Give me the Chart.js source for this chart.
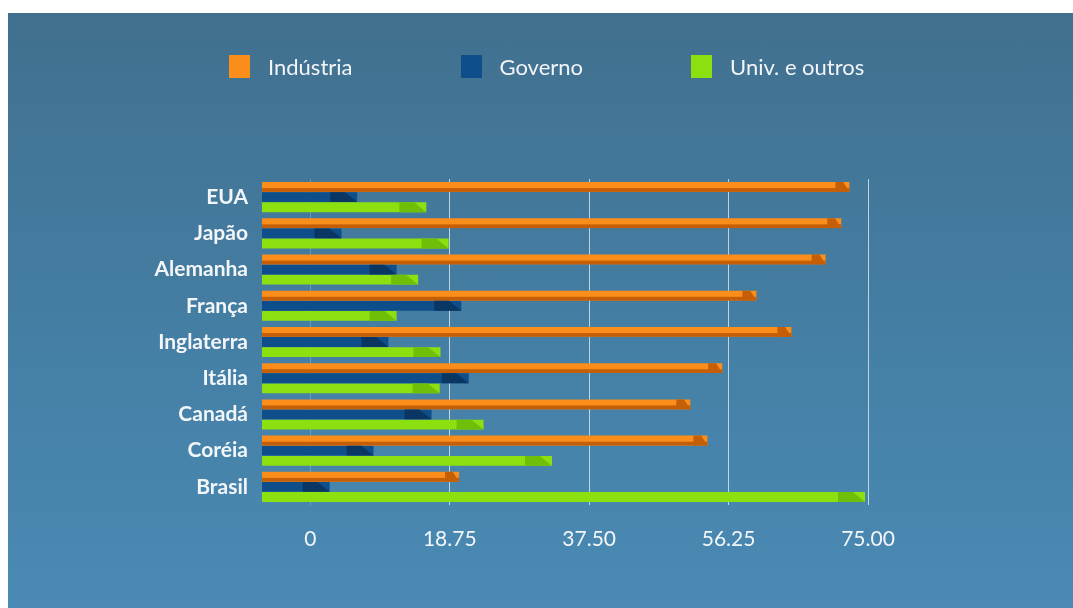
<!DOCTYPE html>
<html lang="pt">
<head>
<meta charset="utf-8">
<title>Pesquisadores por setor</title>
<script src="https://cdn.jsdelivr.net/npm/chart.js@4.4.1/dist/chart.umd.min.js"></script>
<style>
  html, body { margin: 0; padding: 0; background: #fff; }
  #panel {
    position: absolute; left: 8px; top: 13px; width: 1065px; height: 595px; overflow: hidden;
    background: linear-gradient(180deg, #41708f 0%, #4580a6 60%, #4a8ab4 100%);
  }
  #chart { position: absolute; left: 0; top: 0; }
  #legend {
    position: absolute; left: 221px; top: 40px; display: flex; gap: 108px;
    font-family: Lato, sans-serif; font-size: 22px; color: #f2f5f7;
  }
  #legend .item { display: flex; align-items: center; }
  #legend .box { width: 21px; height: 23px; margin-right: 18px; }
</style>
</head>
<body>
<div id="panel">
  <canvas id="chart" width="1065" height="595"></canvas>
  <div id="legend"></div>
</div>
<script>
// categories and series
const categories = ['EUA', 'Japão', 'Alemanha', 'França', 'Inglaterra', 'Itália', 'Canadá', 'Coréia', 'Brasil'];
const industria  = [72.5, 71.4, 69.3, 60.0, 64.7, 55.4, 51.1, 53.4, 20.0];
const governo    = [6.3, 4.2, 11.6, 20.3, 10.5, 21.3, 16.3, 8.5, 2.6];
const univOutros = [15.6, 18.6, 14.5, 11.6, 17.5, 17.4, 23.3, 32.5, 74.6];
const seriesNames = ['Indústria', 'Governo', 'Univ. e outros'];

// value axis
const tickValues = [0, 18.75, 37.5, 56.25, 75];
const tickLabels = ['0', '18.75', '37.50', '56.25', '75.00'];
const axisMin = -6.5;
const axisMax = 75;

const colors = ['#fb8d1b', '#0e4f8b', '#8de010'];
const sideColors = ['#c45f08', '#0a3663', '#6fbf08'];

// darker bar ends / underside to hint at the 3D look
const shade = {
  id: 'shade',
  afterDatasetsDraw(chart) {
    const ctx = chart.ctx;
    chart.data.datasets.forEach((ds, di) => {
      const meta = chart.getDatasetMeta(di);
      meta.data.forEach(bar => {
        const {x, y, base, height} = bar.getProps(['x', 'y', 'base', 'height'], true);
        const top = y - height / 2;
        ctx.save();
        ctx.fillStyle = ds.sideColor;
        if (ds.underside) ctx.fillRect(base, top + height * 0.62, x - base, height * 0.38);
        const tip = Math.min(ds.tipLength, (x - base) * 0.5);
        ctx.beginPath();
        ctx.moveTo(x - tip, top);
        ctx.lineTo(x - tip * 0.45, top);
        ctx.lineTo(x, top + height);
        ctx.lineTo(x - tip, top + height);
        ctx.closePath();
        ctx.fill();
        ctx.restore();
      });
    });
  }
};

const seriesData = [industria, governo, univOutros];
const datasets = seriesData.map((d, i) => ({
  label: seriesNames[i],
  data: d,
  backgroundColor: colors[i],
  sideColor: sideColors[i],
  underside: i === 0,
  tipLength: i === 0 ? 14 : 27,
  base: axisMin,
  borderWidth: 0,
  categoryPercentage: 0.84,
  barPercentage: 0.97,
}));

const chart = new Chart(document.getElementById('chart').getContext('2d'), {
  type: 'bar',
  data: { labels: categories, datasets },
  plugins: [shade],
  options: {
    indexAxis: 'y',
    responsive: false,
    animation: false,
    layout: { padding: { left: 114, right: 205, top: 166, bottom: 43 } },
    plugins: {
      legend: { display: false },
      tooltip: { enabled: false },
    },
    scales: {
      x: {
        min: axisMin,
        max: axisMax,
        afterBuildTicks: s => { s.ticks = tickValues.map(v => ({ value: v })); },
        afterFit: s => { s.height = 60; },
        border: { display: false },
        grid: {
          drawTicks: false,
          lineWidth: 1,
          color: c => (c.tick && c.tick.value === 0) ? 'rgba(255,255,255,0.22)' : 'rgba(232,240,246,0.75)',
        },
        ticks: {
          padding: 22,
          autoSkip: false,
          maxRotation: 0,
          color: '#f3f6f8',
          font: { family: 'Lato', size: 21 },
          callback: (v, i) => tickLabels[i],
        },
      },
      y: {
        afterFit: s => { s.width = 140; },
        border: { display: false },
        grid: { display: false, drawTicks: false },
        ticks: {
          padding: 14,
          color: '#f3f6f8',
          font: { family: 'Lato', size: 21, weight: 'bold' },
        },
      },
    },
  },
});

// legend built from the chart's datasets
const legendEl = document.getElementById('legend');
legendEl.innerHTML = chart.data.datasets.map(ds =>
  `<div class="item"><span class="box" style="background:${ds.backgroundColor}"></span><span>${ds.label}</span></div>`
).join('');
</script>
</body>
</html>
